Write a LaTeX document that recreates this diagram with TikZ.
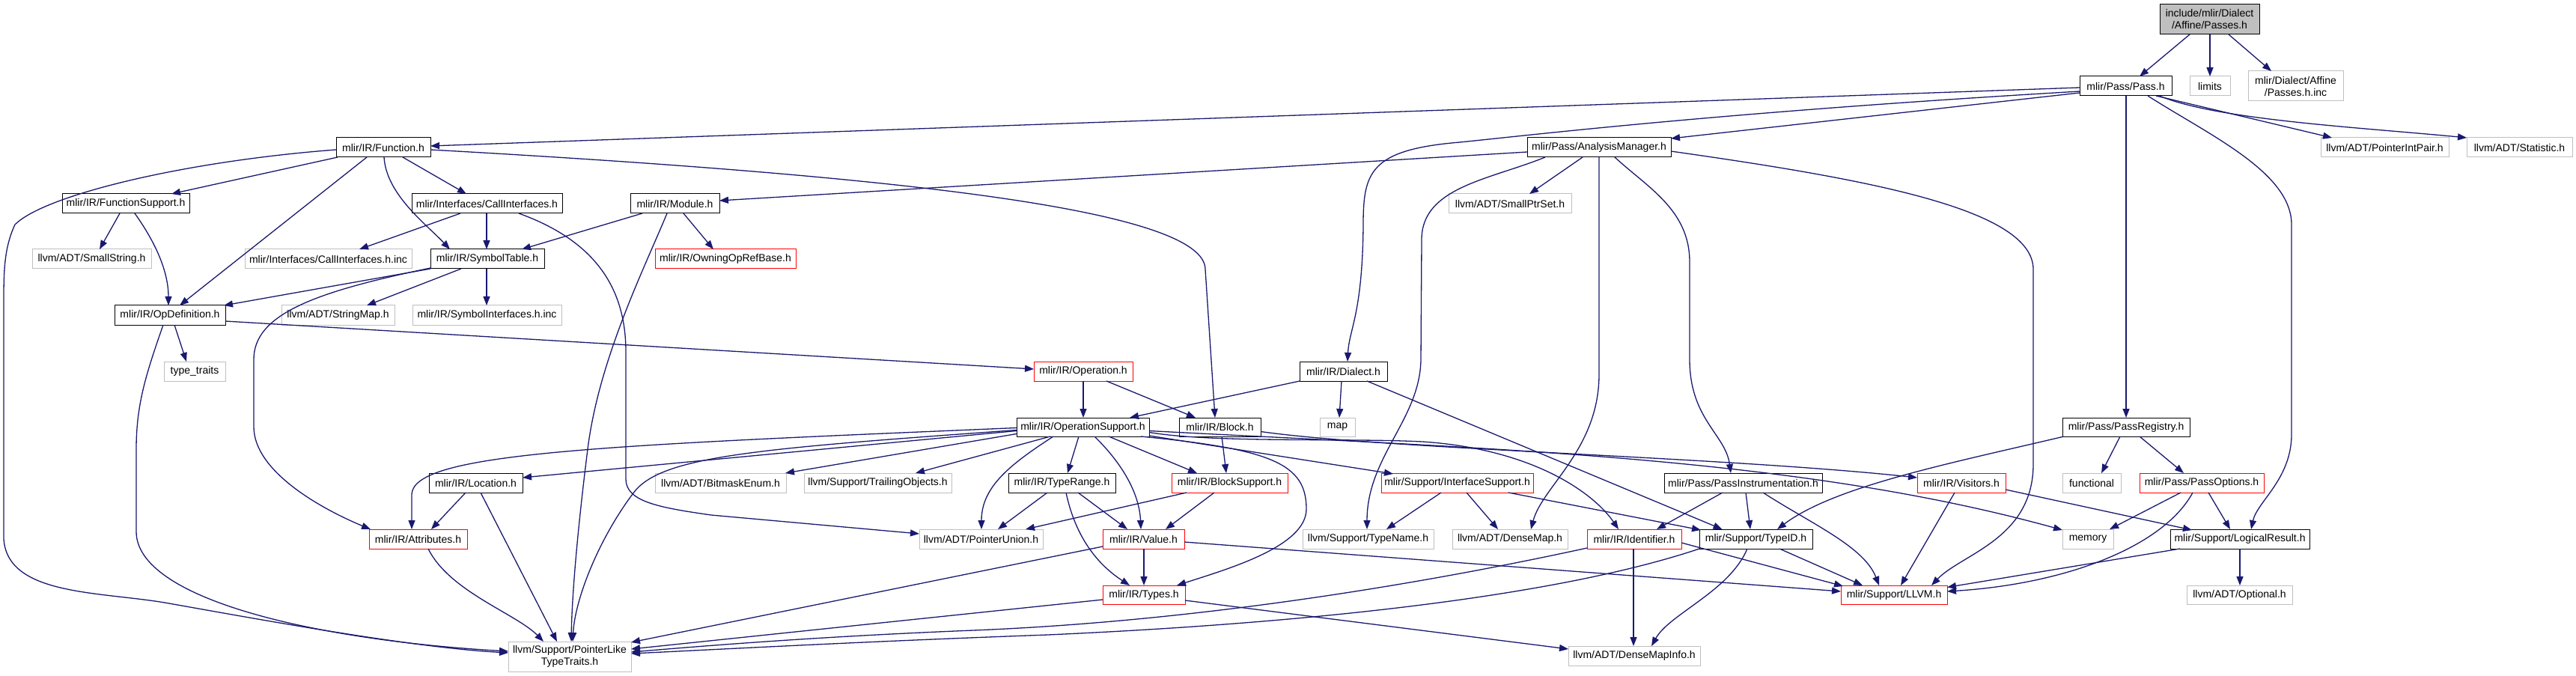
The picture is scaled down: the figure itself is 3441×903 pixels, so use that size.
\documentclass[tikz,border=0pt]{standalone}
\usepackage{fontspec}
\setmainfont{Liberation Sans}
\usetikzlibrary{arrows.meta,calc}
\definecolor{edgeblue}{HTML}{191970}
\definecolor{boxgrey}{HTML}{BFBFBF}
\definecolor{boxred}{HTML}{FF0000}
\definecolor{rootfill}{HTML}{BFBFBF}
\newcommand\mybox[7]{\node[#1,minimum width={(#5-#4)*0.5pt},minimum height={(#7-#6)*0.5pt}] (#2) at ({(#4+#5)/2},{(#6+#7)/2}) {#3};}
\begin{document}
\begin{tikzpicture}[x=0.5pt,y=-0.5pt,
  nbox/.style={draw,rectangle,inner sep=0pt,fill=white,align=center,line width=0.5pt,font=\fontsize{7pt}{8pt}\selectfont},
  blk/.style={nbox,draw=black},
  gry/.style={nbox,draw=boxgrey},
  redbox/.style={nbox,draw=boxred},
  rootbox/.style={nbox,draw=black,fill=rootfill},
  edge/.style={draw=edgeblue,line width=0.65pt,-{Triangle[length=6pt,width=4.5pt]}}]
\fill[white] (0,0) rectangle (3441,903);
\useasboundingbox (0,0) rectangle (3441,903);
% nodes
\mybox{rootbox}{root}{include/mlir/Dialect\\/Affine/Passes.h}{2885}{3018}{6}{46}
\mybox{blk}{pass}{mlir/Pass/Pass.h}{2778}{2901}{102}{128}
\mybox{gry}{limits}{limits}{2925}{2979}{102}{128}
\mybox{gry}{pinc}{mlir/Dialect/Affine\\/Passes.h.inc}{3003}{3130}{95}{135}
\mybox{blk}{func}{mlir/IR/Function.h}{449}{575}{184}{210}
\mybox{blk}{am}{mlir/Pass/AnalysisManager.h}{2040}{2232}{184}{210}
\mybox{gry}{pip}{llvm/ADT/PointerIntPair.h}{3100}{3271}{184}{210}
\mybox{gry}{stat}{llvm/ADT/Statistic.h}{3295}{3436}{184}{210}
\mybox{blk}{fsup}{mlir/IR/FunctionSupport.h}{83}{253}{259}{285}
\mybox{blk}{call}{mlir/Interfaces/CallInterfaces.h}{550}{751}{259}{285}
\mybox{blk}{module}{mlir/IR/Module.h}{842}{961}{259}{285}
\mybox{gry}{sptr}{llvm/ADT/SmallPtrSet.h}{1935}{2099}{259}{285}
\mybox{gry}{sstr}{llvm/ADT/SmallString.h}{43}{202}{333}{359}
\mybox{gry}{callinc}{mlir/Interfaces/CallInterfaces.h.inc}{327}{550}{333}{359}
\mybox{blk}{symt}{mlir/IR/SymbolTable.h}{575}{727}{333}{359}
\mybox{redbox}{owning}{mlir/IR/OwningOpRefBase.h}{875}{1063}{333}{359}
\mybox{blk}{opdef}{mlir/IR/OpDefinition.h}{153}{301}{408}{434}
\mybox{gry}{strmap}{llvm/ADT/StringMap.h}{376}{527}{408}{434}
\mybox{gry}{syminc}{mlir/IR/SymbolInterfaces.h.inc}{551}{750}{408}{434}
\mybox{gry}{tt}{type\_traits}{219}{301}{483}{509}
\mybox{redbox}{oper}{mlir/IR/Operation.h}{1381}{1513}{483}{509}
\mybox{blk}{dialect}{mlir/IR/Dialect.h}{1736}{1853}{483}{509}
\mybox{blk}{opsup}{mlir/IR/OperationSupport.h}{1358}{1535}{558}{583}
\mybox{blk}{block}{mlir/IR/Block.h}{1575}{1684}{558}{583}
\mybox{gry}{map}{map}{1763}{1810}{558}{583}
\mybox{blk}{preg}{mlir/Pass/PassRegistry.h}{2755}{2925}{558}{583}
\mybox{blk}{loc}{mlir/IR/Location.h}{573}{698}{632}{658}
\mybox{gry}{bitm}{llvm/ADT/BitmaskEnum.h}{875}{1050}{632}{658}
\mybox{gry}{trail}{llvm/Support/TrailingObjects.h}{1074}{1271}{632}{658}
\mybox{blk}{trange}{mlir/IR/TypeRange.h}{1347}{1490}{632}{658}
\mybox{redbox}{bsup}{mlir/IR/BlockSupport.h}{1565}{1720}{632}{658}
\mybox{redbox}{isup}{mlir/Support/InterfaceSupport.h}{1845}{2048}{632}{658}
\mybox{blk}{pinst}{mlir/Pass/PassInstrumentation.h}{2223}{2434}{632}{658}
\mybox{redbox}{visit}{mlir/IR/Visitors.h}{2561}{2679}{632}{658}
\mybox{gry}{functional}{functional}{2755}{2833}{632}{658}
\mybox{redbox}{popt}{mlir/Pass/PassOptions.h}{2858}{3024}{632}{658}
\mybox{redbox}{attr}{mlir/IR/Attributes.h}{493}{624}{707}{733}
\mybox{gry}{punion}{llvm/ADT/PointerUnion.h}{1228}{1393}{707}{733}
\mybox{redbox}{value}{mlir/IR/Value.h}{1473}{1582}{707}{733}
\mybox{gry}{tname}{llvm/Support/TypeName.h}{1740}{1915}{707}{733}
\mybox{gry}{dmap}{llvm/ADT/DenseMap.h}{1940}{2094}{707}{733}
\mybox{redbox}{ident}{mlir/IR/Identifier.h}{2120}{2246}{707}{733}
\mybox{blk}{typeid}{mlir/Support/TypeID.h}{2270}{2421}{707}{733}
\mybox{gry}{memory}{memory}{2755}{2823}{707}{733}
\mybox{blk}{lres}{mlir/Support/LogicalResult.h}{2899}{3085}{707}{733}
\mybox{redbox}{types}{mlir/IR/Types.h}{1473}{1583}{782}{807}
\mybox{redbox}{llvm}{mlir/Support/LLVM.h}{2459}{2601}{782}{807}
\mybox{gry}{opt}{llvm/ADT/Optional.h}{2921}{3062}{782}{807}
\mybox{gry}{plike}{llvm/Support/PointerLike\\TypeTraits.h}{679}{843}{857}{897}
\mybox{gry}{dmi}{llvm/ADT/DenseMapInfo.h}{2095}{2271}{863}{889}
% edges
\draw[edge] ($(root)+(-26.5,20)$) -- ($(pass)+(18.5,-13)$);
\draw[edge] ($(root)+(0.5,20)$) -- ($(limits)+(0,-13)$);
\draw[edge] ($(root)+(25.5,20)$) -- ($(pinc)+(-32.5,-20)$);
\draw[edge] ($(pass)+(-61.5,2)$) -- ($(func)+(63,-2)$);
\draw[edge] ($(pass)+(-61.5,7)$) .. controls (2300,150) and (2050,180) .. (1950,190) .. controls (1830,200) and (1821,230) .. (1821,300) .. controls (1820,420) and (1802,440) .. ($(dialect)+(5.5,-13)$);
\draw[edge] ($(pass)+(-61.5,9)$) -- ($(am)+(96,-12)$);
\draw[edge] ($(am)+(-96,6)$) -- ($(module)+(59.5,-4)$);
\draw[edge] ($(func)+(63,3)$) .. controls (1200,235) and (1610,280) .. (1610,360) -- ($(block)+(-6.5,-12.5)$);
\draw[edge] ($(am)+(-72,13)$) .. controls (1990,240) and (1899,250) .. (1899,320) -- (1898,480) .. controls (1897,560) and (1826,610) .. ($(tname)+(-1.5,-13)$);
\draw[edge] ($(am)+(-22,13)$) -- ($(sptr)+(26,-13)$);
\draw[edge] ($(am)+(0,13)$) -- (2136,500) .. controls (2136,600) and (2060,650) .. ($(dmap)+(28,-13)$);
\draw[edge] ($(am)+(21,13)$) .. controls (2200,250) and (2257,280) .. (2257,350) -- (2257,480) .. controls (2257,560) and (2305,580) .. ($(pinst)+(-16.5,-13)$);
\draw[edge] ($(am)+(96,5)$) .. controls (2500,240) and (2716,280) .. (2716,360) -- (2716,620) .. controls (2716,720) and (2620,740) .. ($(llvm)+(50,-12.5)$);
\draw[edge] ($(pass)+(0.5,13)$) -- ($(preg)+(0,-12.5)$);
\draw[edge] ($(pass)+(29.5,13)$) .. controls (2950,180) and (3061,230) .. (3061,300) -- (3061,580) .. controls (3061,640) and (3015,670) .. ($(lres)+(15,-13)$);
\draw[edge] ($(pass)+(40.5,13)$) -- ($(pip)+(-70.5,-13)$);
\draw[edge] ($(pass)+(45,13)$) .. controls (2960,160) and (3150,170) .. ($(stat)+(-70.5,-13)$);
\draw[edge] ($(func)+(-61,13)$) -- ($(fsup)+(61,-13)$);
\draw[edge] ($(func)+(-22,13)$) -- ($(opdef)+(13,-13)$);
\draw[edge] ($(func)+(1,13)$) .. controls (516,260) and (570,300) .. ($(symt)+(-50,-13)$);
\draw[edge] ($(func)+(26,13)$) -- ($(call)+(-27.5,-13)$);
\draw[edge] ($(func)+(-63,3)$) .. controls (250,215) and (60,260) .. (20,300) .. controls (6,330) and (5,360) .. (5,400) -- (5,720) .. controls (10,795) and (130,790) .. (220,805) .. controls (350,828) and (550,865) .. ($(plike)+(-82,-5)$);
\draw[edge] ($(fsup)+(-8,13)$) -- ($(sstr)+(10.5,-13)$);
\draw[edge] ($(fsup)+(12,13)$) .. controls (205,320) and (225,360) .. ($(opdef)+(-2,-13)$);
\draw[edge] ($(call)+(-35.5,13)$) -- ($(callinc)+(41.5,-13)$);
\draw[edge] ($(call)+(-0.5,13)$) -- ($(symt)+(-1,-13)$);
\draw[edge] ($(call)+(42.5,13)$) .. controls (790,320) and (836,380) .. (836,470) -- (836,640) .. controls (836,670) and (880,678) .. (950,688) -- ($(punion)+(-82.5,-7)$);
\draw[edge] ($(module)+(-43.5,13)$) -- ($(symt)+(46,-13)$);
\draw[edge] ($(module)+(11.5,13)$) -- ($(owning)+(-16,-13)$);
\draw[edge] ($(module)+(-10.5,13)$) .. controls (860,360) and (800,480) .. (785,600) .. controls (770,720) and (764,800) .. ($(plike)+(2,-20)$);
\draw[edge] ($(symt)+(-76,13)$) -- ($(opdef)+(72,-13)$);
\draw[edge] ($(symt)+(-35,13)$) -- ($(strmap)+(38.5,-13)$);
\draw[edge] ($(symt)+(-1,13)$) -- ($(syminc)+(-0.5,-13)$);
\draw[edge] ($(symt)+(-76,12)$) .. controls (420,390) and (339,420) .. (339,480) -- (339,570) .. controls (339,630) and (430,680) .. ($(attr)+(-63.5,-13)$);
\draw[edge] ($(opdef)+(6,13)$) -- ($(tt)+(-11,-13)$);
\draw[edge] ($(opdef)+(-9,13)$) .. controls (195,500) and (182,540) .. (182,600) -- (182,710) .. controls (182,800) and (420,855) .. ($(plike)+(-82,-7)$);
\draw[edge] ($(opdef)+(74,8)$) -- ($(oper)+(-66,-3)$);
\draw[edge] ($(oper)+(0,13)$) -- ($(opsup)+(0.5,-12.5)$);
\draw[edge] ($(oper)+(31,13)$) -- ($(block)+(-32.5,-12.5)$);
\draw[edge] ($(dialect)+(-58.5,13)$) -- ($(opsup)+(62.5,-12.5)$);
\draw[edge] ($(dialect)+(-2.5,13)$) -- ($(map)+(2.5,-12.5)$);
\draw[edge] ($(dialect)+(31.5,13)$) -- ($(typeid)+(-45,-13)$);
\draw[edge] ($(opsup)+(-88.5,5)$) -- ($(loc)+(62.5,-7)$);
\draw[edge] ($(opsup)+(-88.5,1)$) .. controls (800,595) and (553,605) .. (550,660) -- ($(attr)+(-8.5,-13)$);
\draw[edge] ($(opsup)+(-88.5,4)$) .. controls (1000,600) and (880,610) .. (845,660) .. controls (800,720) and (768,800) .. ($(plike)+(4,-20)$);
\draw[edge] ($(opsup)+(-88.5,9)$) -- ($(bitm)+(86.5,-13)$);
\draw[edge] ($(opsup)+(-43.5,12.5)$) -- ($(trail)+(50.5,-13)$);
\draw[edge] ($(opsup)+(-39.5,12.5)$) .. controls (1350,620) and (1311,650) .. ($(punion)+(0.5,-13)$);
\draw[edge] ($(opsup)+(-5.5,12.5)$) -- ($(trange)+(7.5,-13)$);
\draw[edge] ($(opsup)+(15.5,12.5)$) .. controls (1500,620) and (1522,660) .. ($(value)+(-3.5,-13)$);
\draw[edge] ($(opsup)+(34.5,12.5)$) -- ($(bsup)+(-43.5,-13)$);
\draw[edge] ($(opsup)+(77.5,12.5)$) .. controls (1700,600) and (1745,620) .. (1745,680) .. controls (1745,730) and (1640,760) .. ($(types)+(44,-12.5)$);
\draw[edge] ($(opsup)+(88.5,11.5)$) -- ($(isup)+(-85.5,-12)$);
\draw[edge] ($(opsup)+(88.5,7)$) .. controls (1620,592) and (1800,585) .. (1900,590) .. controls (2050,600) and (2130,660) .. ($(ident)+(-21,-13)$);
\draw[edge] ($(opsup)+(88.5,5)$) .. controls (2000,600) and (2400,610) .. ($(memory)+(-34,-12)$);
\draw[edge] ($(block)+(2.5,12.5)$) -- ($(bsup)+(-4.5,-13)$);
\draw[edge] ($(block)+(54.5,6)$) .. controls (1850,600) and (2300,610) .. ($(visit)+(-59,-7)$);
\draw[edge] ($(trange)+(-19.5,13)$) -- ($(punion)+(22.5,-13)$);
\draw[edge] ($(trange)+(21.5,13)$) -- ($(value)+(-21.5,-13)$);
\draw[edge] ($(trange)+(5.5,13)$) .. controls (1435,710) and (1460,750) .. ($(types)+(-19,-12.5)$);
\draw[edge] ($(bsup)+(-57.5,13)$) -- ($(punion)+(59.5,-13)$);
\draw[edge] ($(bsup)+(-20.5,13)$) -- ($(value)+(29.5,-13)$);
\draw[edge] ($(isup)+(-21.5,13)$) -- ($(tname)+(24.5,-13)$);
\draw[edge] ($(isup)+(12.5,13)$) -- ($(dmap)+(-16,-13)$);
\draw[edge] ($(isup)+(68.5,13)$) -- ($(typeid)+(-73.5,-12)$);
\draw[edge] ($(pinst)+(-27.5,13)$) -- ($(ident)+(30,-13)$);
\draw[edge] ($(pinst)+(3.5,13)$) -- ($(typeid)+(-7.5,-13)$);
\draw[edge] ($(pinst)+(26.5,13)$) .. controls (2420,700) and (2490,730) .. ($(llvm)+(-20,-12.5)$);
\draw[edge] ($(preg)+(-85,13)$) .. controls (2600,620) and (2450,650) .. ($(typeid)+(28.5,-13)$);
\draw[edge] ($(preg)+(-8,12.5)$) -- ($(functional)+(13,-13)$);
\draw[edge] ($(preg)+(18,12.5)$) -- ($(popt)+(-24,-13)$);
\draw[edge] ($(visit)+(-9,13)$) -- ($(llvm)+(9,-12.5)$);
\draw[edge] ($(visit)+(59,9)$) -- ($(lres)+(-64,-12)$);
\draw[edge] ($(popt)+(-28,13)$) -- ($(memory)+(29,-13)$);
\draw[edge] ($(popt)+(-12,13)$) .. controls (2890,730) and (2760,780) .. ($(llvm)+(71,-4.5)$);
\draw[edge] ($(popt)+(9,13)$) -- ($(lres)+(-13,-13)$);
\draw[edge] ($(lres)+(-80,13)$) -- ($(llvm)+(71,-10)$);
\draw[edge] ($(lres)+(0,13)$) -- ($(opt)+(0.5,-12.5)$);
\draw[edge] ($(typeid)+(31.5,13)$) -- ($(llvm)+(-42,-12.5)$);
\draw[edge] ($(typeid)+(-11.5,13)$) .. controls (2310,790) and (2230,820) .. ($(dmi)+(23,-13)$);
\draw[edge] ($(typeid)+(-75.5,13)$) .. controls (2100,790) and (1800,830) .. (1400,848) .. controls (1150,857) and (950,868) .. ($(plike)+(82,-4)$);
\draw[edge] ($(ident)+(-1,13)$) -- ($(dmi)+(-1,-13)$);
\draw[edge] ($(ident)+(63,5)$) -- ($(llvm)+(-68,-11.5)$);
\draw[edge] ($(ident)+(-63,12)$) .. controls (1900,780) and (1600,830) .. (1300,842) .. controls (1100,850) and (950,862) .. ($(plike)+(82,-6)$);
\draw[edge] ($(value)+(0.5,13)$) -- ($(types)+(0,-12.5)$);
\draw[edge] ($(value)+(54.5,4)$) -- ($(llvm)+(-71,-4.5)$);
\draw[edge] ($(value)+(-54.5,10)$) -- ($(plike)+(82,-19)$);
\draw[edge] ($(types)+(-55,6.5)$) -- ($(plike)+(82,-10)$);
\draw[edge] ($(types)+(55,7.5)$) -- ($(dmi)+(-88,-9)$);
\draw[edge] ($(attr)+(13.5,13)$) .. controls (600,790) and (690,820) .. ($(plike)+(-35,-20)$);
\draw[edge] ($(loc)+(-13.5,13)$) -- ($(attr)+(17.5,-13)$);
\draw[edge] ($(loc)+(6.5,13)$) -- ($(plike)+(-17,-20)$);
\end{tikzpicture}
\end{document}
